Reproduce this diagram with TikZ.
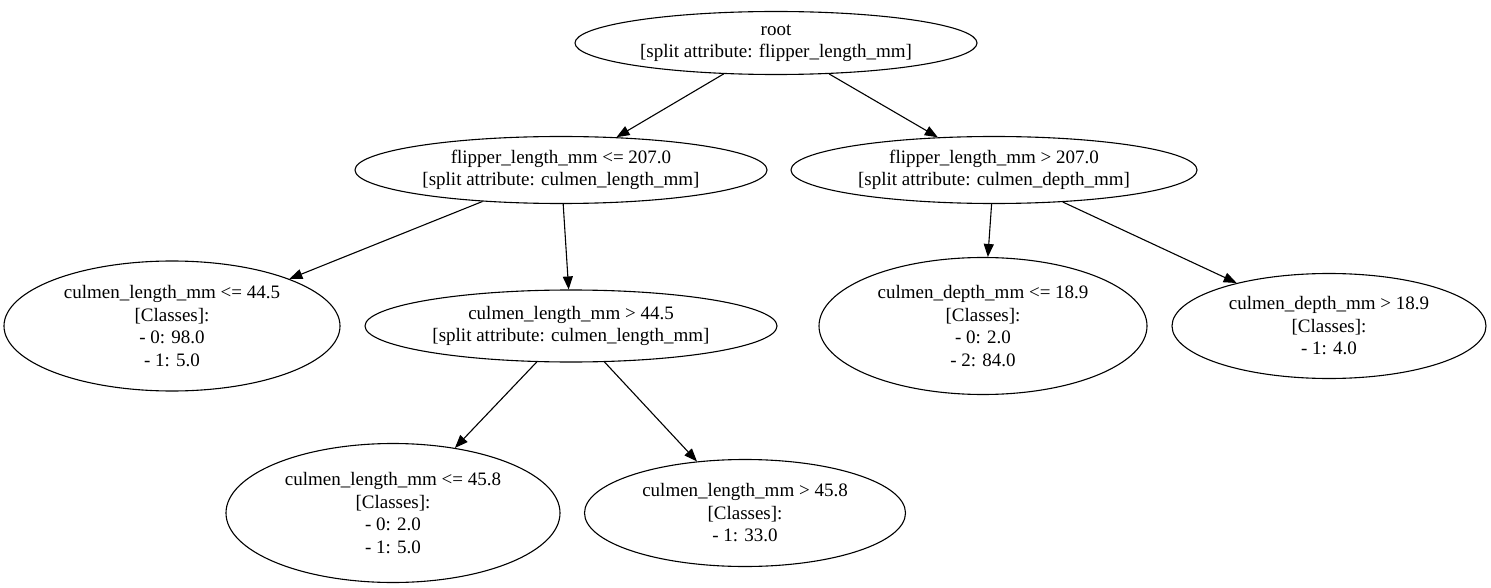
\documentclass[tikz,border=0pt]{standalone}
\usepackage{fontspec}
\setmainfont{Liberation Serif}
\usetikzlibrary{shapes.geometric,arrows.meta}
\begin{document}
\begin{tikzpicture}[x=1pt,y=-1pt,
  tnode/.style={draw,ellipse,inner sep=0pt,align=center,line width=1.1pt,
    font=\fontsize{19}{22.5}\selectfont},
  edge/.style={draw,line width=1.1pt,-{Triangle[length=13pt,width=10pt]}}]
\useasboundingbox (0,0) rectangle (1491,588);
\node[tnode,minimum width=402pt,minimum height=63pt] (root) at (776,43) {root\\{}[split attribute: flipper\_length\_mm]};
\node[tnode,minimum width=412pt,minimum height=67pt] (a) at (561,170) {flipper\_length\_mm <= 207.0\\{}[split attribute: culmen\_length\_mm]};
\node[tnode,minimum width=406pt,minimum height=67pt] (b) at (994,170) {flipper\_length\_mm > 207.0\\{}[split attribute: culmen\_depth\_mm]};
\node[tnode,minimum width=336pt,minimum height=130pt] (c) at (172,326) {culmen\_length\_mm <= 44.5\\{}[Classes]:\\- 0: 98.0\\- 1: 5.0};
\node[tnode,minimum width=412pt,minimum height=72pt] (d) at (571,326) {culmen\_length\_mm > 44.5\\{}[split attribute: culmen\_length\_mm]};
\node[tnode,minimum width=328pt,minimum height=137pt] (e) at (983,326) {culmen\_depth\_mm <= 18.9\\{}[Classes]:\\- 0: 2.0\\- 2: 84.0};
\node[tnode,minimum width=314pt,minimum height=105pt] (f) at (1329,326) {culmen\_depth\_mm > 18.9\\{}[Classes]:\\- 1: 4.0};
\node[tnode,minimum width=334pt,minimum height=139pt] (g) at (393,513) {culmen\_length\_mm <= 45.8\\{}[Classes]:\\- 0: 2.0\\- 1: 5.0};
\node[tnode,minimum width=321pt,minimum height=107pt] (h) at (745,513) {culmen\_length\_mm > 45.8\\{}[Classes]:\\- 1: 33.0};
\draw[edge] (root) -- (a);
\draw[edge] (root) -- (b);
\draw[edge] (a) -- (c);
\draw[edge] (a) -- (d);
\draw[edge] (b) -- (e);
\draw[edge] (b) -- (f);
\draw[edge] (d) -- (g);
\draw[edge] (d) -- (h);
\end{tikzpicture}
\end{document}
